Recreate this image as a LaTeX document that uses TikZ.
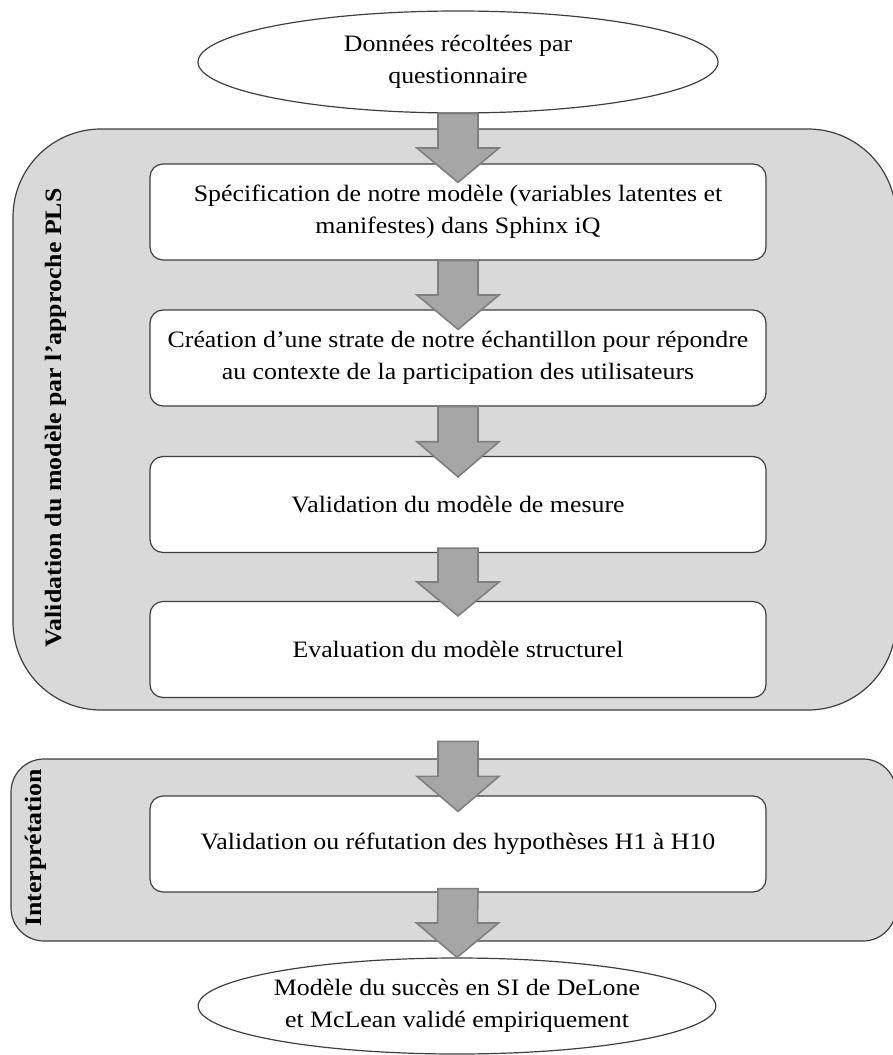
\documentclass[tikz,border=0pt]{standalone}
\usepackage{fontspec}
\setmainfont[FakeStretch=1.1]{Liberation Serif}
\usetikzlibrary{shapes.geometric,calc}

\definecolor{panelgray}{HTML}{D9D9D9}
\definecolor{arrowgray}{HTML}{A6A6A6}
\definecolor{arrowedge}{HTML}{7F7F7F}
\definecolor{edgegray}{HTML}{3F3F3F}

\newcommand\boxfont{\fontsize{23.5}{32}\selectfont}

\tikzset{
  panel/.style={draw=edgegray, fill=panelgray, line width=1.2pt},
  panellabel/.style={rotate=90, font=\boxfont\bfseries, inner sep=0pt},
  stepbox/.style={draw=edgegray, fill=white, line width=1.2pt, rounded corners=13pt,
    minimum width=616pt, minimum height=96pt, align=center, font=\boxfont, inner sep=0pt},
  endpoint/.style={ellipse, draw=edgegray, fill=white, line width=1.2pt,
    align=center, font=\boxfont, inner sep=0pt},
  blockarrow/.style={draw=arrowedge, fill=arrowgray, line width=1.6pt, line join=miter},
}

% block arrow from #1 (tail) to #2 (tip)
\newcommand\blockarrow[2]{%
  \draw[blockarrow] ($(#1)+(-20,0)$) -- ($(#1)!.5!(#2)+(-20,0)$) -- ++(-21,0) -- (#2)
    -- ($(#1)!.5!(#2)+(41,0)$) -- ++(-21,0) -- ($(#1)+(20,0)$) -- cycle;}

\begin{document}
\begin{tikzpicture}[x=1pt, y=-1pt]
  \useasboundingbox (0,0) rectangle (893,1055);

  % the two grey panels
  \draw[panel, rounded corners=88pt] (13,129) rectangle (896,710);
  \draw[panel, rounded corners=33pt] (11,759) rectangle (896,941);
  \node[panellabel] (plslabel) at (56,418) {Validation du modèle par l’approche PLS};
  \node[panellabel] (interlabel) at (36,848) {Interprétation};

  % steps
  \node[endpoint, minimum width=520pt, minimum height=102pt] (donnees) at (458,62)
    {Données récoltées par\\questionnaire};
  \node[stepbox] (spec) at (458,212)
    {Spécification de notre modèle (variables latentes et\\manifestes) dans Sphinx iQ};
  \node[stepbox] (strate) at (458,358)
    {Création d’une strate de notre échantillon pour répondre\\au contexte de la participation des utilisateurs};
  \node[stepbox] (mesure) at (458,504.5) {Validation du modèle de mesure};
  \node[stepbox] (struct) at (458,649.5) {Evaluation du modèle structurel};
  \node[stepbox] (hypo) at (458,844) {Validation ou réfutation des hypothèses H1 à H10};
  \node[endpoint, minimum width=514pt, minimum height=96pt] (succes) at (457,1006)
    {Modèle du succès en SI de DeLone\\et McLean validé empiriquement};

  % arrows
  \coordinate (t1) at ($(spec.north)+(0,19)$);
  \coordinate (t2) at ($(strate.north)+(0,20)$);
  \coordinate (t3) at ($(mesure.north)+(0,21)$);
  \coordinate (s4) at ($(mesure.south)+(0,-5)$);
  \coordinate (t4) at ($(struct.north)+(0,15)$);
  \coordinate (s5) at ($(hypo.north)+(0,-54)$);
  \coordinate (t5) at ($(hypo.north)+(0,16)$);
  \coordinate (s6) at ($(hypo.south)+(0,-4)$);
  \blockarrow{donnees.south}{t1}
  \blockarrow{spec.south}{t2}
  \blockarrow{strate.south}{t3}
  \blockarrow{s4}{t4}
  \blockarrow{s5}{t5}
  \blockarrow{s6}{succes.north}
\end{tikzpicture}
\end{document}
